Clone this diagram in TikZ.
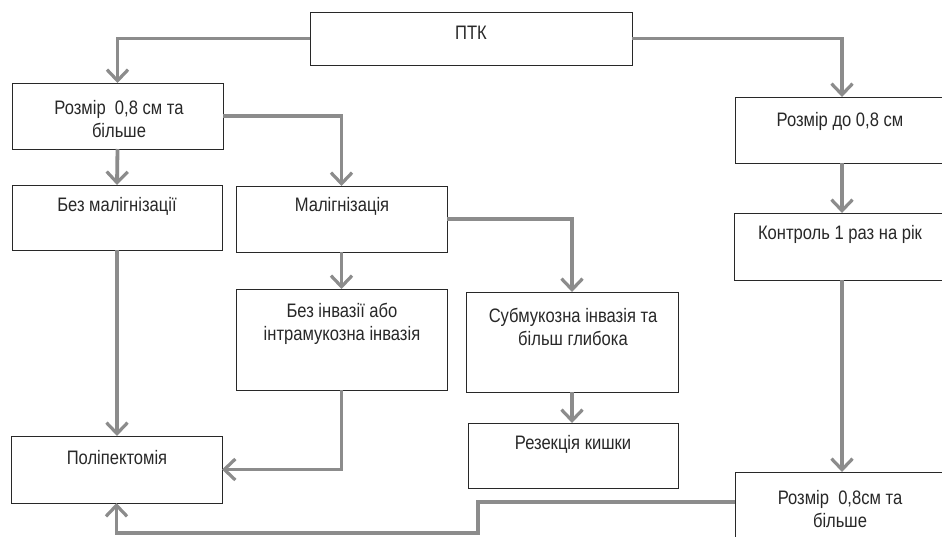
\documentclass[tikz,border=0pt]{standalone}
\usepackage{fontspec}
\setmainfont{Liberation Sans}[FakeStretch=0.85]
\usetikzlibrary{arrows.meta}
\definecolor{conncol}{RGB}{140,140,140}
\definecolor{inkcol}{RGB}{40,40,40}
\begin{document}
\begin{tikzpicture}[x=1pt,y=-1pt,
  box/.style={draw=inkcol, line width=1pt, rectangle, inner sep=0pt, outer sep=0pt},
  txt/.style={font=\fontsize{19.5}{23}\selectfont, align=center, inner sep=0pt, text=inkcol},
  conn/.style={draw=conncol, line width=3.8pt, line join=miter,
    -{Straight Barb[length=11pt,width=21pt,line width=3.2pt]}}
]
\useasboundingbox[fill=white] (0,0) rectangle (942,536);

% boxes
\node[box, minimum width=322pt, minimum height=53pt] (ptk) at (471,38.5) {};
\node[box, minimum width=211pt, minimum height=66pt] (r1) at (117.5,116) {};
\node[box, minimum width=210pt, minimum height=65pt] (bm) at (117,217.5) {};
\node[box, minimum width=211pt, minimum height=66pt] (mal) at (341.5,219) {};
\node[box, minimum width=211pt, minimum height=101pt] (bi) at (341.5,339.5) {};
\node[box, minimum width=212pt, minimum height=100pt] (sub) at (572,342) {};
\node[box, minimum width=210pt, minimum height=65pt] (rez) at (573,455.5) {};
\node[box, minimum width=211pt, minimum height=67pt] (poly) at (116.5,469.5) {};
\node[box, minimum width=214pt, minimum height=66pt] (r2) at (842,130) {};
\node[box, minimum width=216pt, minimum height=67pt] (kon) at (842,246.5) {};
\node[box, minimum width=214pt, minimum height=88pt] (r3) at (842,516) {};

% texts
\node[txt] (tptk) at (471,33) {ПТК};
\node[txt] (tr1) at (119,119) {Розмір~ 0,8 см та\\більше};
\node[txt] (tbm) at (117,206) {Без малігнізації};
\node[txt] (tmal) at (342,206) {Малігнізація};
\node[txt] (tbi) at (342,324) {Без інвазії або\\інтрамукозна інвазія};
\node[txt] (tsub) at (573,327) {Субмукозна інвазія та\\більш глибока};
\node[txt] (trez) at (573,444) {Резекція кишки};
\node[txt] (tpoly) at (117,458) {Поліпектомія};
\node[txt] (tr2) at (840,121) {Розмір до 0,8 см};
\node[txt] (tkon) at (840,234) {Контроль 1 раз на рік};
\node[txt] (tr3) at (840,509) {Розмір~ 0,8см та\\більше};

% connectors
\coordinate (c1) at (478,502);
\coordinate (c2) at (478,533);
\draw[conn] (ptk.west) -| (r1.north);
\draw[conn] (ptk.east) -| (r2.north);
\draw[conn] (r1.south) -- (bm.north);
\draw[conn] (r1.east) -| (mal.north);
\draw[conn] (mal.south) -- (bi.north);
\draw[conn] (mal.east) -| (sub.north);
\draw[conn] (sub.south) -- (sub.south |- rez.north);
\draw[conn] (bm.south) -- (bm.south |- poly.north);
\draw[conn] (bi.south) |- (poly.east);
\draw[conn] (r2.south) -- (kon.north);
\draw[conn] (kon.south) -- (r3.north);
\draw[conn] (c1 -| r3.west) -- (c1) -- (c2) -- (c2 -| poly.south) -- (poly.south);
\end{tikzpicture}
\end{document}
